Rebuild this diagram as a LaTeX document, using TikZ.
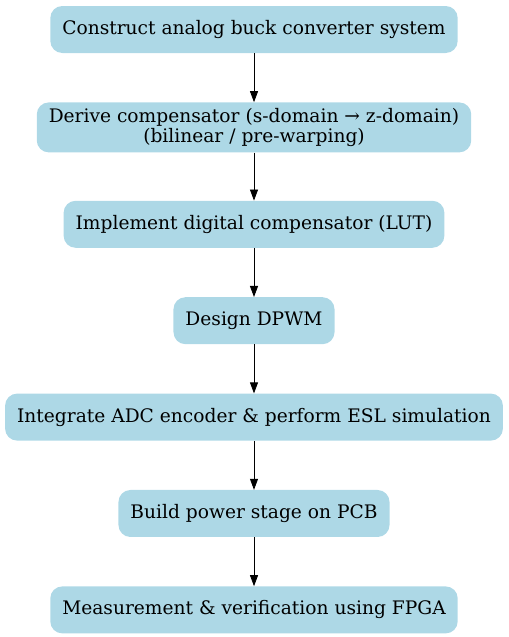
\documentclass[tikz,border=0pt]{standalone}
\usepackage{fontspec}
\setmainfont{DejaVu Serif}
\usetikzlibrary{arrows.meta,positioning}

\begin{document}
\begin{tikzpicture}[>={Triangle[length=11bp,width=8bp]},node distance=49bp,
    stepbox/.style={rectangle,rounded corners=12bp,fill={rgb,255:red,173;green,216;blue,230},
        minimum height=47bp,inner xsep=12bp,inner ysep=4bp,align=center,font=\fontsize{18.7}{19.5}\selectfont}]

                \useasboundingbox (0,0) rectangle (509bp,-637bp);

                \node[stepbox] (s1) at (254bp,-29.5bp) {Construct analog buck converter system};

                \node[stepbox,minimum height=50bp] (s2) [below=of s1] {Derive compensator (s-domain → z-domain)\\(bilinear / pre-warping)};

                \node[stepbox] (s3) [below=48bp of s2] {Implement digital compensator (LUT)};

                \node[stepbox] (s4) [below=of s3] {Design DPWM};

                \node[stepbox] (s5) [below=of s4] {Integrate ADC encoder \& perform ESL simulation};

                \node[stepbox] (s6) [below=of s5] {Build power stage on PCB};

                \node[stepbox] (s7) [below=of s6] {Measurement \& verification using FPGA};

                

                \path[->,line width=0.8pt] (s1) edge (s2)

                          (s2) edge (s3)

                          (s3) edge (s4)

                          (s4) edge (s5)

                          (s5) edge (s6)

                          (s6) edge (s7);

            \end{tikzpicture}
\end{document}
